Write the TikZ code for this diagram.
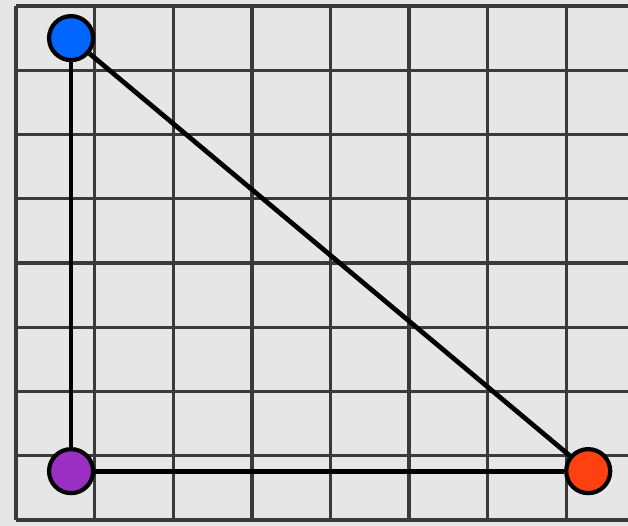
\documentclass[tikz,border=0pt]{standalone}
\usepackage{tikz}
\usetikzlibrary{positioning}
\definecolor{bgGray}{HTML}{E6E6E6}
\definecolor{gridGray}{HTML}{3A3A3A}
\definecolor{ptBlue}{HTML}{0066FF}
\definecolor{ptPurple}{HTML}{9A2FC2}
\definecolor{ptOrange}{HTML}{FF4010}
\tikzset{
  gridline/.style={draw=gridGray,line width=0.95pt},
}

\begin{document}
\begin{tikzpicture}[
  x=7.86mm,y=6.425mm,
  pt/.style={draw=black,circle,line width=1.2pt,minimum size=4.4mm,inner sep=0pt},
  edge/.style={draw=black,line width=1.35pt}
]
\fill[bgGray] (-0.204,-0.093) rectangle (7.786,8.093);
\useasboundingbox (-0.204,-0.093) rectangle (7.786,8.093);

\draw[gridline,step={(1,1)}] (0,0) grid (7.786,8);

\node[pt,fill=ptBlue] (top) at (0.7,7.5) {};
\node[pt,fill=ptPurple] (left) at (0.7,0.76) {};
\node[pt,fill=ptOrange] (right) at (7.28,0.76) {};

\draw[edge] (top) -- (left);
\draw[edge] (left) -- (right);
\draw[edge] (top) -- (right);

\end{tikzpicture}
\end{document}
